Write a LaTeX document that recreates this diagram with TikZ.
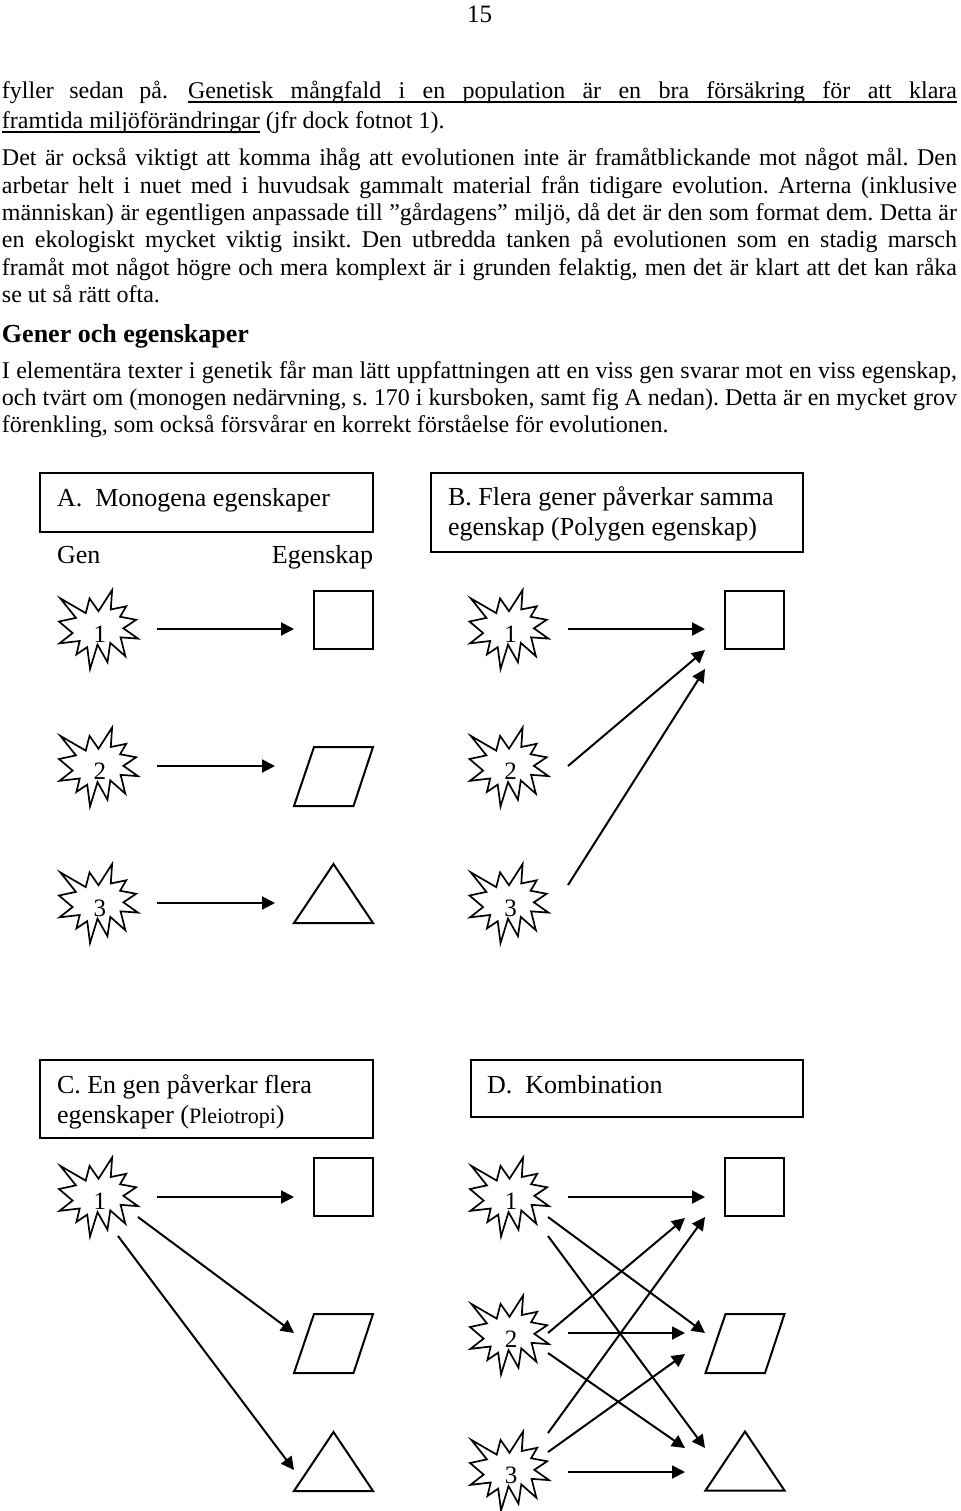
\documentclass[tikz,border=0pt]{standalone}
\usepackage{fontspec}
\setmainfont{Liberation Serif}
\usetikzlibrary{arrows.meta}
\frenchspacing

\newcommand\burstshape[4]{%
  \node[burstnode] (#1) at (#2,#3) {};
  \draw[burstline, shift={(#2,#3)}] (0,-18.29) -- (-8.95,-31.11) -- (-12.76,-16.39) -- (-38.15,-31.11) -- (-22.58,-11.64) -- (-39.5,-7.99) -- (-25.89,3.57) -- (-39.01,13.85) -- (-18.77,11.47) -- (-22.08,24.93) -- (-11.28,17.65) -- (-8.47,39.5) -- (-0.98,15.12) -- (8.95,32.69) -- (11.78,13.38) -- (26.86,26.68) -- (22.08,7.83) -- (39.5,9.11) -- (24.90,-1.19) -- (37.66,-9.74) -- (21.59,-12.75) -- (27.72,-23.20) -- (12.27,-20.02) -- (13.61,-39.5) -- cycle;
  \node[digit] (#1t) at ([shift={(1.5,12.5)}]#1.center) {#4};
}
\newcommand\parashape[3]{%
  \node[shapenode] (#1) at (#2,#3) {};
  \draw[shapeline, shift={(#2,#3)}] (-19.5,-29.5) -- (39.5,-29.5) -- (20,29.5) -- (-39.5,29.5) -- cycle;
}
\newcommand\trishape[3]{%
  \node[shapenode] (#1) at (#2,#3) {};
  \draw[shapeline, shift={(#2,#3)}] (0,-29.5) -- (39.5,29.5) -- (-39.5,29.5) -- cycle;
}

\begin{document}
\frenchspacing
\begin{tikzpicture}[x=0.5pt, y=-0.5pt,
  every node/.style={inner sep=0pt, outer sep=0pt},
  body/.style={anchor=base west, font=\fontsize{12}{14}\selectfont},
  boxtxt/.style={anchor=base west, font=\fontsize{13}{15}\selectfont},
  panel/.style={draw, line width=0.85pt},
  uline/.style={line width=0.7pt},
  arr/.style={line width=1pt, -{Triangle[length=6.5pt,width=6.5pt]}},
  burstline/.style={line width=0.85pt, line join=miter},
  burstnode/.style={minimum size=39.5pt},
  shapeline/.style={line width=1pt},
  shapenode/.style={minimum width=39.5pt, minimum height=29.5pt},
  sqnode/.style={draw, line width=1pt, minimum width=29.5pt, minimum height=29pt},
  digit/.style={anchor=base, font=\fontsize{12.5}{15}\selectfont}]
\useasboundingbox (0,0) rectangle (960,1511);

% page number
\node[anchor=base, font=\fontsize{12.5}{15}\selectfont] (pnum) at (479.5,22) {15};

% body text
\node[body] (t1a) at (2,98) {\makebox[83pt][s]{fyller sedan på.}};
\node[body] (t1b) at (188,98) {\makebox[384.5pt][s]{Genetisk mångfald i en population är en bra försäkring för att klara}};
\draw[uline] ([shift={(0,4)}]t1b.base west) -- ([shift={(0,4)}]t1b.base east);
\node[body] (t2a) at (2,128) {framtida miljöförändringar};
\draw[uline] ([shift={(0,4)}]t2a.base west) -- ([shift={(0,4)}]t2a.base east);
\node[body] (t2b) at ([shift={(6,0)}]t2a.base east) {(jfr dock fotnot 1).};
\node[body] (t3) at (2,165) {\makebox[477.5pt][s]{Det är också viktigt att komma ihåg att evolutionen inte är framåtblickande mot något mål. Den}};
\node[body] (t4) at (2,193) {\makebox[477.5pt][s]{arbetar helt i nuet med i huvudsak gammalt material från tidigare evolution. Arterna (inklusive}};
\node[body] (t5) at (2,220) {\makebox[477.5pt][s]{människan) är egentligen anpassade till ”gårdagens” miljö, då det är den som format dem. Detta är}};
\node[body] (t6) at (2,247) {\makebox[477.5pt][s]{en ekologiskt mycket viktig insikt. Den utbredda tanken på evolutionen som en stadig marsch}};
\node[body] (t7) at (2,275) {\makebox[477.5pt][s]{framåt mot något högre och mera komplext är i grunden felaktig, men det är klart att det kan råka}};
\node[body] (t8) at (2,302) {se ut så rätt ofta.};
\node[anchor=base west, font=\bfseries\fontsize{13}{15}\selectfont] (h1) at (2,342) {Gener och egenskaper};
\node[body] (t9) at (2,378) {\makebox[477.5pt][s]{I elementära texter i genetik får man lätt uppfattningen att en viss gen svarar mot en viss egenskap,}};
\node[body] (t10) at (2,405) {\makebox[477.5pt][s]{och tvärt om (monogen nedärvning, s. 170 i kursboken, samt fig A nedan). Detta är en mycket grov}};
\node[body] (t11) at (2,432) {förenkling, som också försvårar en korrekt förståelse för evolutionen.};

% ---------- Panel A ----------
\node[panel, minimum width=166.5pt, minimum height=29.5pt] (boxA) at (206.5,502.5) {};
\node[boxtxt] (labA) at (57,506) {A.\ \ Monogena egenskaper};
\node[boxtxt] (gen) at (57,563) {Gen};
\node[boxtxt, anchor=base east] (egen) at (373,563) {Egenskap};
\burstshape{A1}{98.5}{629.5}{1}
\burstshape{A2}{98.5}{767}{2}
\burstshape{A3}{98.5}{903.5}{3}
\node[sqnode] (Asq) at (343.5,620) {};
\parashape{Apar}{333.5}{776.5}
\trishape{Atri}{333.5}{893.5}
\draw[arr] ([shift={(58.5,-0.5)}]A1.center) -- ([shift={(-49.5,9)}]Asq.center);
\draw[arr] ([shift={(58.5,-1)}]A2.center) -- ([shift={(-58.5,-10.5)}]Apar.center);
\draw[arr] ([shift={(58.5,-0.5)}]A3.center) -- ([shift={(-58.5,9.5)}]Atri.center);

% ---------- Panel B ----------
\node[panel, minimum width=186pt, minimum height=39.5pt] (boxB) at (617,512.5) {};
\node[boxtxt] (labB1) at (448,505) {B. Flera gener påverkar samma};
\node[boxtxt] (labB2) at (448,535) {egenskap (Polygen egenskap)};
\burstshape{B1}{509}{629.5}{1}
\burstshape{B2}{509}{767}{2}
\burstshape{B3}{509}{903.5}{3}
\node[sqnode] (Bsq) at (754,620) {};
\draw[arr] ([shift={(59,-0.5)}]B1.center) -- ([shift={(-49,9)}]Bsq.center);
\draw[arr] ([shift={(59,-1)}]B2.center) -- ([shift={(-49,30)}]Bsq.center);
\draw[arr] ([shift={(59,-18.5)}]B3.center) -- ([shift={(-49,49)}]Bsq.center);

% ---------- Panel C ----------
\node[panel, minimum width=166.5pt, minimum height=39pt] (boxC) at (206.5,1099) {};
\node[boxtxt] (labC1) at (57,1093) {C. En gen påverkar flera};
\node[boxtxt] (labC2) at (57,1123) {egenskaper ({\fontsize{11}{13}\selectfont Pleiotropi})};
\burstshape{C1}{98.5}{1197}{1}
\node[sqnode] (Csq) at (343.5,1187) {};
\parashape{Cpar}{333.5}{1343.5}
\trishape{Ctri}{333.5}{1461.5}
\draw[arr] ([shift={(58.5,0)}]C1.center) -- ([shift={(-49.5,10)}]Csq.center);
\draw[arr] ([shift={(39.5,20)}]C1.center) -- ([shift={(-39.5,-10.5)}]Cpar.center);
\draw[arr] ([shift={(19.5,39)}]C1.center) -- ([shift={(-39.5,8.5)}]Ctri.center);

% ---------- Panel D ----------
\node[panel, minimum width=166pt, minimum height=28.5pt] (boxD) at (637,1088.5) {};
\node[boxtxt] (labD) at (487,1093) {D.\ \ Kombination};
\burstshape{D1}{509.5}{1197}{1}
\burstshape{D2}{509.5}{1335}{2}
\burstshape{D3}{509.5}{1471}{3}
\node[sqnode] (Dsq) at (754.5,1187) {};
\parashape{Dpar}{745}{1343.5}
\trishape{Dtri}{745}{1461}
\draw[arr] ([shift={(58.5,0)}]D1.center) -- ([shift={(-49.5,10)}]Dsq.center);
\draw[arr] ([shift={(38.5,20)}]D1.center) -- ([shift={(-40,-10.5)}]Dpar.center);
\draw[arr] ([shift={(38.5,39)}]D1.center) -- ([shift={(-40,-13)}]Dtri.center);
\draw[arr] ([shift={(38.5,-2)}]D2.center) -- ([shift={(-69.5,31)}]Dsq.center);
\draw[arr] ([shift={(58.5,-2)}]D2.center) -- ([shift={(-60,-10.5)}]Dpar.center);
\draw[arr] ([shift={(38.5,18)}]D2.center) -- ([shift={(-60,-13)}]Dtri.center);
\draw[arr] ([shift={(38.5,-38)}]D3.center) -- ([shift={(-49.5,30)}]Dsq.center);
\draw[arr] ([shift={(38.5,-19)}]D3.center) -- ([shift={(-60,10.5)}]Dpar.center);
\draw[arr] ([shift={(58.5,1)}]D3.center) -- ([shift={(-60,11)}]Dtri.center);
\end{tikzpicture}
\end{document}
